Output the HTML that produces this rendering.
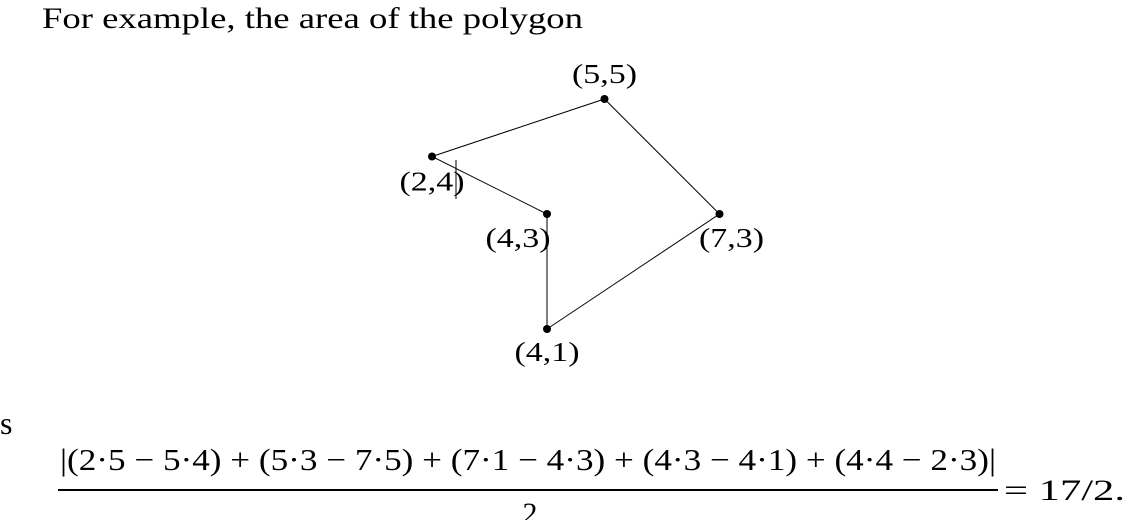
<!DOCTYPE html>
<html><head><meta charset="utf-8"><style>
body{margin:0;background:#fff;width:1125px;height:520px;overflow:hidden}
svg text{font-family:"Liberation Serif","DejaVu Serif",serif;fill:#000}
</style></head><body>
<svg width="1125" height="520">
<text x="42" y="28" font-size="30" textLength="541" lengthAdjust="spacingAndGlyphs">For example, the area of the polygon</text>
<g id="poly"></g>
<line x1="456" y1="160" x2="456" y2="199" stroke="#000" stroke-width="1"/>
<text x="0" y="434" font-size="32">s</text>
<text x="60" y="470" font-size="31" textLength="936" lengthAdjust="spacingAndGlyphs">|(2·5 − 5·4) + (5·3 − 7·5) + (7·1 − 4·3) + (4·3 − 4·1) + (4·4 − 2·3)|</text>
<line x1="58" y1="490" x2="998" y2="490" stroke="#000" stroke-width="2"/>
<text x="530" y="523" font-size="30" text-anchor="middle">2</text>
<text x="1004" y="500" font-size="30" textLength="121" lengthAdjust="spacingAndGlyphs">= 17/2.</text>
</svg>
<script>
const xs=[2,5,7,4,4];
const ys=[4,5,3,1,3];
const labels=["(2,4)","(5,5)","(7,3)","(4,1)","(4,3)"];
const ldx=[0,0,12,0,-29];
const ldy=[34,-16,33,32,33];
const sx=v=>317+57.5*v, sy=v=>386.5-57.5*v;
const g=document.getElementById('poly');
const ns='http://www.w3.org/2000/svg';
const pg=document.createElementNS(ns,'polygon');
pg.setAttribute('points',xs.map((x,i)=>sx(x)+','+sy(ys[i])).join(' '));
pg.setAttribute('fill','none');pg.setAttribute('stroke','#000');pg.setAttribute('stroke-width','1');


g.appendChild(pg);
xs.forEach((x,i)=>{
 const c=document.createElementNS(ns,'circle');
 c.setAttribute('cx',sx(x));c.setAttribute('cy',sy(ys[i]));c.setAttribute('r','4');
 
 
 g.appendChild(c);
 const t=document.createElementNS(ns,'text');
 t.setAttribute('x',sx(x)+ldx[i]);t.setAttribute('y',sy(ys[i])+ldy[i]);
 t.setAttribute('text-anchor','middle');t.setAttribute('font-size','27');
 t.setAttribute('textLength','65');t.setAttribute('lengthAdjust','spacingAndGlyphs');
 t.textContent=labels[i];
 
 
 g.appendChild(t);
});
</script>
</body></html>
